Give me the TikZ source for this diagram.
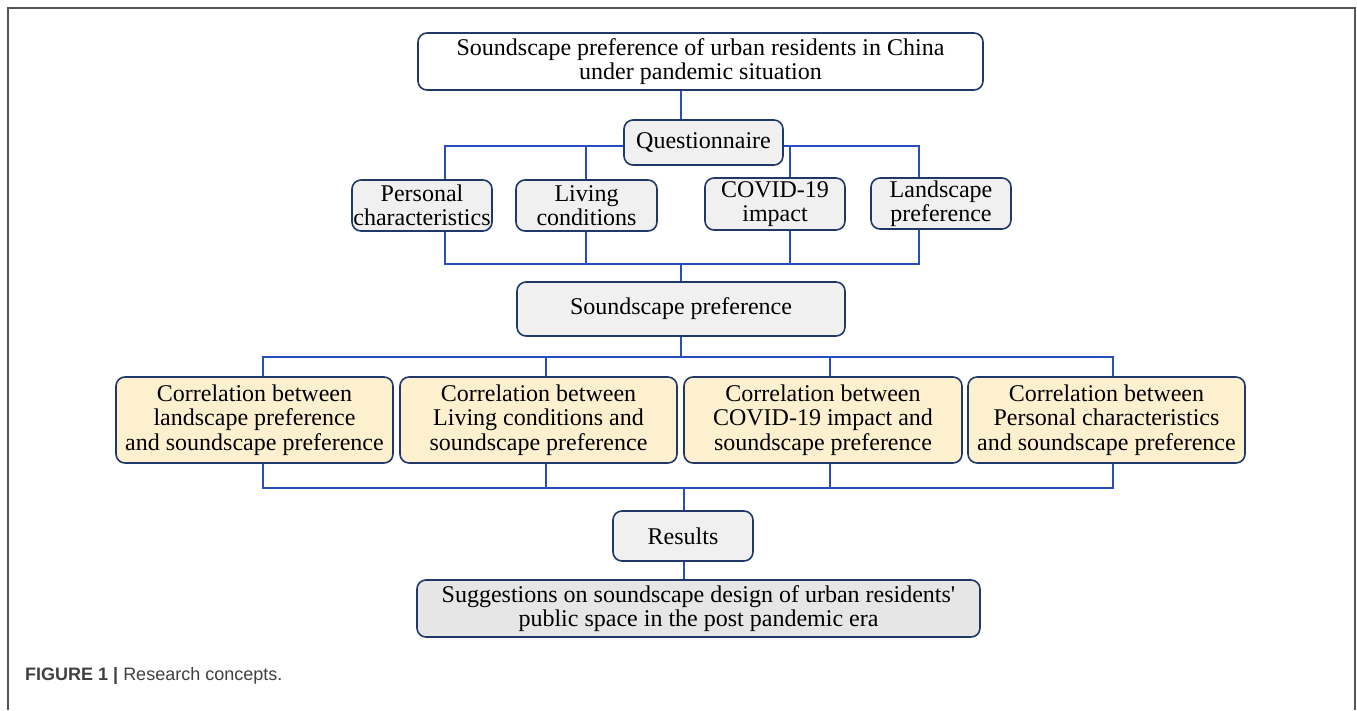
\documentclass[tikz,border=0pt]{standalone}
\usepackage{fontspec}
\setmainfont{Liberation Serif}
\newfontfamily\nolig{Liberation Serif}[Ligatures=TeXOff]
\newfontfamily\capfont{Liberation Sans}
\begin{document}
\begin{tikzpicture}[x=1pt,y=-1pt,
  box/.style={draw=boxblue, line width=1.6pt, rounded corners=9pt, align=center, inner sep=0pt,
    font=\fontsize{24}{24.5}\selectfont},
  wbox/.style={box, fill=white},
  gbox/.style={box, fill=boxgray},
  ybox/.style={box, fill=boxcream},
  conn/.style={draw=lineblue, line width=1.8pt}]
\definecolor{boxblue}{HTML}{1F3868}
\definecolor{lineblue}{HTML}{2A4DBE}
\definecolor{boxgray}{HTML}{F0F0F0}
\definecolor{boxgray2}{HTML}{E6E6E6}
\definecolor{boxcream}{HTML}{FCF0CF}
\definecolor{framegray}{HTML}{555555}
\useasboundingbox (0,0) rectangle (1357,710);
\draw[framegray, line width=1.5pt] (8,710) -- (8,8) -- (1355,8) -- (1355,710);

% nodes
\node[wbox, minimum width=565pt, minimum height=57pt] (top) at (700.5,61.5) {Soundscape preference of urban residents in China\\under pandemic situation};
\node[gbox, minimum width=159pt, minimum height=45pt] (quest) at (703.5,142.5) {Questionnaire};
\node[gbox, minimum width=140pt, minimum height=51pt] (pc) at (422,205.5) {Personal\\characteristics};
\node[gbox, minimum width=141pt, minimum height=51pt] (lc) at (586.5,205.5) {Living\\conditions};
\node[gbox, minimum width=140pt, minimum height=52pt] (cv) at (775,204) {COVID-19\\impact};
\node[gbox, minimum width=140pt, minimum height=51pt] (ls) at (941,203.5) {Landscape\\preference};
\node[gbox, minimum width=328pt, minimum height=54pt] (sp) at (681,309) {Soundscape preference};
\node[ybox, minimum width=277pt, minimum height=86pt] (c1) at (254.5,420) {Correlation between\\landscape preference\\and soundscape preference};
\node[ybox, minimum width=277pt, minimum height=86pt] (c2) at (538.5,420) {Correlation between\\Living conditions and\\soundscape preference};
\node[ybox, minimum width=278pt, minimum height=86pt] (c3) at (823,420) {Correlation between\\COVID-19 impact and\\soundscape preference};
\node[ybox, minimum width=277pt, minimum height=86pt] (c4) at (1106.5,420) {Correlation between\\Personal characteristics\\and soundscape preference};
\node[gbox, minimum width=140pt, minimum height=50pt] (res) at (683,536) {Results};
\node[box, fill=boxgray2, minimum width=563pt, minimum height=57pt] (sug) at (698.5,608.5) {Suggestions on soundscape design of urban residents{\nolig '}\\public space in the post pandemic era};

\node[anchor=base west, inner sep=0pt, font=\capfont\fontsize{18}{20}\selectfont, text=black!75] (cap) at (25,680)
  {\textbf{FIGURE 1 |} Research concepts.};

% junction coordinates
\coordinate (xa) at (681,0);
\coordinate (xp) at (445,0);
\coordinate (xl) at (586,0);
\coordinate (xc) at (790,0);
\coordinate (xs) at (919,0);
\coordinate (y1) at (0,146);
\coordinate (y2) at (0,264);
\coordinate (y3) at (0,357);
\coordinate (y4) at (0,488);
\coordinate (x1) at (263,0);
\coordinate (x2) at (546,0);
\coordinate (x3) at (830,0);
\coordinate (x4) at (1113,0);
\coordinate (xr) at (684,0);

% connectors
\draw[conn] (top.south -| xa) -- (quest.north -| xa);
\draw[conn] (quest.west |- y1) -| (pc.north -| xp);
\draw[conn] (xl |- y1) -- (lc.north -| xl);
\draw[conn] (quest.east |- y1) -| (ls.north -| xs);
\draw[conn] (xc |- y1) -- (cv.north -| xc);

\draw[conn] (pc.south -| xp) |- (xs |- y2) -- (ls.south -| xs);
\draw[conn] (lc.south -| xl) -- (xl |- y2);
\draw[conn] (cv.south -| xc) -- (xc |- y2);
\draw[conn] (xa |- y2) -- (sp.north -| xa);

\draw[conn] (sp.south -| xa) -- (xa |- y3);
\draw[conn] (c1.north -| x1) |- (x4 |- y3) -- (c4.north -| x4);
\draw[conn] (x2 |- y3) -- (c2.north -| x2);
\draw[conn] (x3 |- y3) -- (c3.north -| x3);

\draw[conn] (c1.south -| x1) |- (x4 |- y4) -- (c4.south -| x4);
\draw[conn] (c2.south -| x2) -- (x2 |- y4);
\draw[conn] (c3.south -| x3) -- (x3 |- y4);
\draw[conn] (xr |- y4) -- (res.north -| xr);
\draw[conn] (res.south -| xr) -- (sug.north -| xr);
\end{tikzpicture}
\end{document}
